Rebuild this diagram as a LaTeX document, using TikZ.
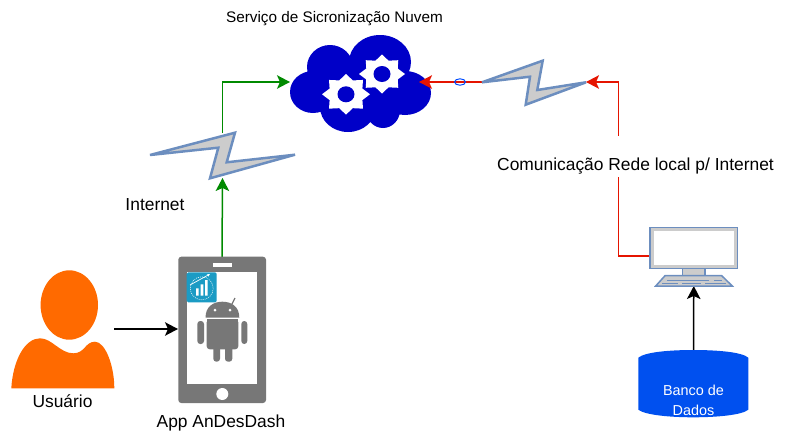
\documentclass[tikz,border=0pt]{standalone}
\usepackage{fontspec}
\setmainfont{Liberation Sans}
\usetikzlibrary{arrows.meta}
\definecolor{boltline}{HTML}{6C8EBF}
\definecolor{boltfill}{HTML}{CCCCCC}
\definecolor{cloudblue}{HTML}{0000C8}
\definecolor{arrowgreen}{HTML}{008A00}
\definecolor{arrowred}{HTML}{E51400}
\definecolor{phonegray}{HTML}{777777}
\definecolor{appblue}{HTML}{1B9BC4}
\definecolor{personorange}{HTML}{FF6A00}
\definecolor{dbblue}{HTML}{0050EF}
\tikzset{
  anchorbox/.style={inner sep=0,outer sep=0,minimum width=#1},
  lbl/.style={font=\fontsize{17.4}{20}\selectfont,inner sep=0,text=black,align=center},
  titlelbl/.style={lbl,font=\fontsize{15.3}{20}\selectfont},
  dblbl/.style={lbl,font=\fontsize{14.4}{20}\selectfont,text=white},
  conn/.style={line width=1.5pt,-{Stealth[length=13pt,width=13.5pt,inset=3pt]}},
  greenconn/.style={conn,draw=arrowgreen},
  redconn/.style={conn,draw=arrowred},
  blackconn/.style={conn,draw=black},
  boltshape/.style={draw=boltline,fill=boltfill,line width=2.5pt,line join=miter,miter limit=4},
  monitorpart/.style={draw=boltline,fill=boltfill,line width=1.5pt},
}
\begin{document}
\begin{tikzpicture}[x=1pt,y=-1pt]
\useasboundingbox (0,0) rectangle (785,447);
% anchor nodes
\node[anchorbox=141pt,minimum height=100pt] (cloud) at (360.5,82) {};
\node[anchorbox=145pt,minimum height=45pt] (bolt1) at (222.5,155.5) {};
\node[anchorbox=104pt,minimum height=44pt] (bolt2) at (534,82) {};
\node[anchorbox=88pt,minimum height=146pt] (phone) at (222,330) {};
\node[anchorbox=103pt,minimum height=84pt] (person) at (63,346) {};
\node[anchorbox=88pt,minimum height=59pt] (monitor) at (693.8,256.5) {};
\node[anchorbox=110pt,minimum height=67pt] (db) at (693.5,383.5) {};
\coordinate (cloudport) at (419,82);
\coordinate (personport) at (114,329);
\coordinate (redlow) at (618.3,256);
\coordinate (redhigh) at (618.3,82);
\coordinate (monport) at (650,256);

% cloud
\fill[cloudblue]
  (313,92) ellipse [x radius=23,y radius=21]
  (330,67) ellipse [x radius=23,y radius=22]
  (380,62) ellipse [x radius=31,y radius=27]
  (405,93) ellipse [x radius=26,y radius=22]
  (348,107) ellipse [x radius=28,y radius=25]
  (383,110) ellipse [x radius=17,y radius=18]
  (360,85) ellipse [x radius=45,y radius=28];
\foreach \cx/\cy/\rx/\ry in {346/94.3/24/20.3,382/74/23/19.5}{
  \fill[white] plot[samples at={0,22.5,...,337.5},variable=\a]
     ({\cx+(mod(round(\a/22.5),2)==0?1:0.74)*\rx*sin(\a)},{\cy-(mod(round(\a/22.5),2)==0?1:0.74)*\ry*cos(\a)}) -- cycle;
  \fill[cloudblue] (\cx,\cy) ellipse [x radius=8.5,y radius=8];
}

% connectors
\draw[greenconn] (phone.north) -- (bolt1.south);
\draw[greenconn] (bolt1.north) |- (cloud.west);
\draw[redconn] (monport) -- (redlow) -- (redhigh) -- (bolt2.east);
\draw[redconn] (bolt2.west) -- (cloudport);
\draw[blackconn] (personport) -- (phone.west |- personport);
\draw[blackconn] (db.north) -- (monitor.south);
\draw[draw=blue!70!cyan,line width=1pt] (460,82) ellipse [x radius=5.5,y radius=3.2];

% bolts
\draw[boltshape] (150,155) -- (235,132.7) -- (226.7,162.3) -- (295,154.7) -- (210,178.3) -- (218.3,147.7) -- cycle;
\draw[boltshape] (482,82.3) -- (542.7,60.7) -- (537.3,90) -- (586,82.3) -- (525.7,104.7) -- (530,76.7) -- cycle;

% person
\fill[personorange] (69.3,305) ellipse [x radius=28.7,y radius=34.7];
\fill[personorange] (11.3,388.3) .. controls (13,360) and (25,338.3) .. (40,338.3)
  .. controls (52,338.3) and (60,353.3) .. (73.3,353.3)
  .. controls (85,353.3) and (85,341.7) .. (95,341.7)
  .. controls (105,341.7) and (114.3,365) .. (114.3,388.3) -- cycle;

% phone
\fill[phonegray,rounded corners=3pt] (178.3,256.7) rectangle (266,403);
\fill[white] (187.3,272.3) rectangle (257,384.3);
\fill[white] (212.7,263.3) rectangle (232,266.7);
\fill[white] (222.3,394) circle [radius=6];
% android
\fill[phonegray] (205.5,317.7) .. controls (205.5,306) and (214,301.7) .. (222.3,301.7)
   .. controls (231,301.7) and (239.3,306) .. (239.3,317.7) -- cycle;
\draw[phonegray,line width=1.2pt] (232,304) -- (235,298);
\fill[white] (215,310) circle [radius=1.5] (230,310) circle [radius=1.5];
\fill[phonegray,rounded corners=3pt] (206.7,319.3) rectangle (238.3,349.3);
\fill[phonegray] (206.7,319.3) rectangle (238.3,340);
\fill[phonegray,rounded corners=3pt] (197.3,321) rectangle (204,344);
\fill[phonegray,rounded corners=3pt] (241.3,321) rectangle (247.3,344);
\fill[phonegray,rounded corners=3pt] (213.3,345) rectangle (220,361.7);
\fill[phonegray,rounded corners=3pt] (225,345) rectangle (232.3,361.7);
% app icon
\fill[appblue,rounded corners=1.5pt] (186.7,272.3) rectangle (216.7,302.3);
\fill[white] (196,288.3) rectangle (198.7,295.7) (200.7,284.3) rectangle (203.3,295.7) (205,280) rectangle (207.7,295.7);
\draw[white,line width=0.7pt,-{Stealth[length=3pt,width=3pt]}] (190,285) -- (210,274);
\draw[white,line width=0.5pt,dash pattern=on 1pt off 1pt] (201.7,288.3) circle [radius=11.5];

% monitor
\draw[monitorpart] (650,227.7) rectangle (737.7,268.3);
\fill[white] (653.5,230.7) rectangle (734,265);
\draw[monitorpart] (682.7,268.3) rectangle (705,275.7);
\draw[monitorpart] (665,275.7) -- (721.7,275.7) -- (732.3,286) -- (655.7,286) -- cycle;
\draw[boltline,line width=1pt] (667,280) -- (709,280) (714,280) -- (722,280) (662,283.3) -- (678,283.3) (682,283.3) -- (701,283.3) (705,283.3) -- (726,283.3);

% database
\fill[dbblue] (638.3,357.7) .. controls (645,352) and (670,350) .. (693.3,350)
  .. controls (717,350) and (742,352) .. (748.3,357.7) -- (748.3,409.7)
  .. controls (742,415) and (717,417.3) .. (693.3,417.3)
  .. controls (670,417.3) and (645,415) .. (638.3,409.7) -- cycle;
\node[dblbl] (dbtext) at (693.5,400) {Banco de\\Dados};

% labels
\node[titlelbl] (title) at (334.5,18.5) {Serviço de Sicronização Nuvem};
\node[lbl] (internet) at (155,204.5) {Internet};
\node[lbl] (app) at (221,423) {App AnDesDash};
\node[lbl] (user) at (62.5,401.5) {Usuário};
\fill[white] (600,136) rectangle (640,176.7);
\node[lbl] (rede) at (635.5,166) {Comunicação Rede local p/ Internet};
\end{tikzpicture}
\end{document}
